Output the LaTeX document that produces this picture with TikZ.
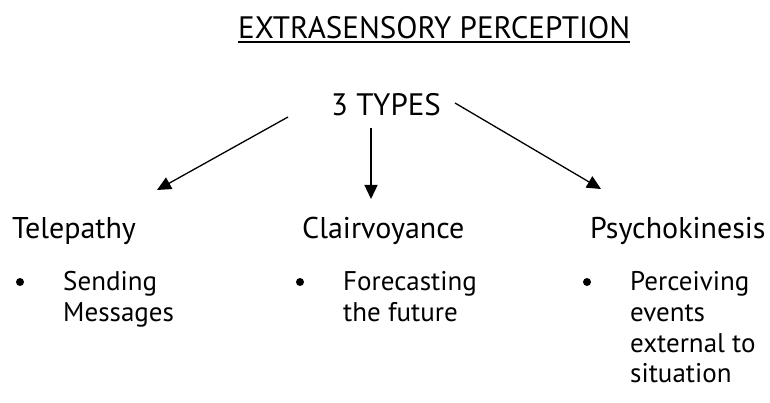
\documentclass[tikz,border=0pt]{standalone}
\usepackage{fontspec}
\setmainfont{PT Sans}
\newfontfamily\titlefont{PT Sans}
\usetikzlibrary{arrows.meta}
\tikzset{
  titletxt/.style={font=\titlefont\fontsize{31}{31}\selectfont, inner sep=0pt, anchor=base west},
  typestxt/.style={font=\fontsize{31}{31}\selectfont, inner sep=0pt, anchor=base west},
  headtxt/.style={font=\fontsize{30}{30}\selectfont, inner sep=0pt, anchor=base west},
  bodytxt/.style={font=\fontsize{27}{27}\selectfont, inner sep=0pt, anchor=base west},
  bul/.style={circle, fill=black, inner sep=0pt, minimum size=8pt},
  arr/.style={line width=1.3pt, -{Triangle[length=14pt,width=13pt]}}
}
\begin{document}
\begin{tikzpicture}[x=1pt,y=-1pt]
\useasboundingbox (0,0) rectangle (770,403);
% title
\node[titletxt] (title) at (238,39) {EXTRASENSORY PERCEPTION};
\draw[line width=1.5pt] ([yshift=-3pt]title.base west) -- ([yshift=-3pt]title.base east);
% 3 types
\node[typestxt] (types) at (331,116) {3 TYPES};
\coordinate (s1) at (288,117);
\coordinate (e1) at (157,190);
\coordinate (s2) at (371,128);
\coordinate (e2) at (371,199);
\coordinate (s3) at (455,103);
\coordinate (e3) at (601,189);
\draw[arr] (s1) -- (e1);
\draw[arr] (s2) -- (e2);
\draw[arr] (s3) -- (e3);
% headings
\node[headtxt] (tel) at (12,238) {Telepathy};
\node[headtxt] (cla) at (302,238) {Clairvoyance};
\node[headtxt] (psy) at (590,238) {Psychokinesis};
% bullets
\node[bul] (b1) at (20,282) {};
\node[bul] (b2) at (300,282) {};
\node[bul] (b3) at (587,282) {};
% bodies
\node[bodytxt] (t1a) at (63,290) {Sending};
\node[bodytxt] (t1b) at (63,321) {Messages};
\node[bodytxt] (t2a) at (343,290) {Forecasting};
\node[bodytxt] (t2b) at (343,321) {the future};
\node[bodytxt] (t3a) at (630,290) {Perceiving};
\node[bodytxt] (t3b) at (630,321) {events};
\node[bodytxt] (t3c) at (630,352) {external to};
\node[bodytxt] (t3d) at (630,382) {situation};
\end{tikzpicture}
\end{document}
